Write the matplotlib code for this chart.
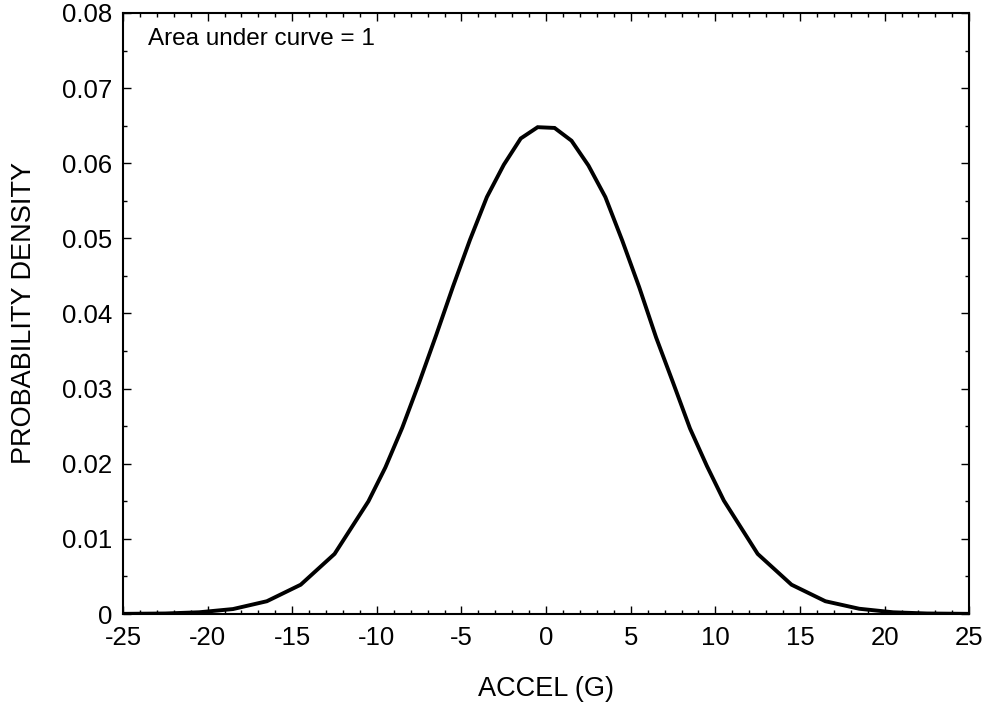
import matplotlib
matplotlib.use("Agg")
import matplotlib.pyplot as plt
from matplotlib.ticker import MultipleLocator

plt.rcParams['font.family'] = ['Liberation Sans', 'DejaVu Sans']

accel = [-25, -22.5, -20.5, -18.5, -16.5, -14.5, -12.5, -10.5, -9.5, -8.5, -7.5,
         -6.5, -5.5, -4.5, -3.5, -2.5, -1.5, -0.5, 0.5, 1.5, 2.5, 3.5, 4.5, 5.5,
         6.5, 7.5, 8.5, 9.5, 10.5, 12.5, 14.5, 16.5, 18.5, 20.5, 22.5, 25]
density = [0.00002, 0.00007, 0.00023, 0.00066, 0.0017, 0.0039, 0.0080, 0.0150,
           0.0195, 0.0248, 0.0308, 0.0371, 0.0436, 0.0498, 0.0555, 0.0598, 0.0633,
           0.0648, 0.0647, 0.0630, 0.0597, 0.0555, 0.0497, 0.0435, 0.0368, 0.0308,
           0.0247, 0.0197, 0.0151, 0.0080, 0.0039, 0.0017, 0.0007, 0.00023,
           0.00007, 0.00002]

xticks = [-25, -20, -15, -10, -5, 0, 5, 10, 15, 20, 25]
yticks = [0, 0.01, 0.02, 0.03, 0.04, 0.05, 0.06, 0.07, 0.08]
ytick_labels = ['0', '0.01', '0.02', '0.03', '0.04', '0.05', '0.06', '0.07', '0.08']

fig = plt.figure(figsize=(9.84, 7.06), dpi=100)
ax = fig.add_axes([0.125, 0.1303, 0.86, 0.8513])
ax.plot(accel, density, color='black', lw=2.8, solid_joinstyle='miter')
ax.set_xlim(-25, 25)
ax.set_ylim(0, 0.08)
ax.set_xticks(xticks)
ax.set_xticklabels([str(t) for t in xticks])
ax.set_yticks(yticks)
ax.set_yticklabels(ytick_labels)
ax.xaxis.set_minor_locator(MultipleLocator(1))
ax.yaxis.set_minor_locator(MultipleLocator(0.005))
ax.tick_params(which='both', direction='in', top=True, right=True, labelsize=18.5, width=1)
ax.tick_params(which='major', length=6)
ax.tick_params(which='minor', length=3)
ax.tick_params(axis='x', which='major', pad=8.5)
ax.tick_params(axis='y', which='major', pad=8)
for s in ax.spines.values():
    s.set_linewidth(1.5)
ax.set_xlabel('ACCEL (G)', fontsize=19.5, labelpad=19)
ax.set_ylabel('PROBABILITY DENSITY', fontsize=19.5, labelpad=18)
ax.text(0.03, 0.975, 'Area under curve = 1', transform=ax.transAxes, fontsize=17.5,
        ha='left', va='top')
fig.savefig('out.png', dpi=100)
